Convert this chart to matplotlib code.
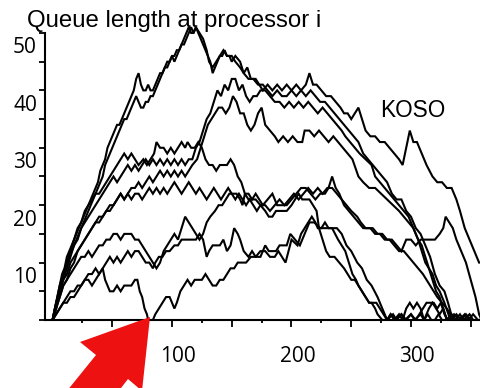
import matplotlib
matplotlib.use("Agg")
import matplotlib.pyplot as plt
from matplotlib.patches import Polygon
from matplotlib.transforms import ScaledTranslation

# ---------------- data (queue length at processor i) ----------------
A_pts = [(0,0),(2,2),(4,4),(6,6),(8,8),(10,9),(12,11),(14,12),(16,13),(18,14),(20,15),(22,16),(24,17),(26,18),
         (28,19),(30,20),(32,21),(34,22),(36,23),(38,24),(40,26),(42,27),(44,28),(46,30),(48,31),(50,32),(52,33),
         (54,34),(56,34),(58,35),(60,36),(62,37),(64,38),(66,39),(68,40),(70,42),(72,43),(74,41),(76,40),(78,40),
         (80,41),(82,40),(84,40),(86,41),(88,42),(90,43),(92,43),(94,44),(96,45),(98,45),(100,46),(102,46),(104,47),
         (106,47),(108,48),(110,49),(112,50),(114,51),(116,50),(118,50),(120,51),(122,50),(124,49),(126,48),(128,47),
         (130,46),(132,45),(134,43),(136,44),(138,45),(140,46),(142,46),(144,47),(146,46),(148,46),(150,45),(153,46),
         (157,45),(160,43),(163,44),(166,42),(170,42),(173,41),(176,40),(180,41),(184,40),(188,41),(192,40),(196,41),
         (200,40),(204,41),(208,40),(212,41),(215,43),(218,41),(221,41),(225,40),(229,39),(233,39),(237,38),(241,37),
         (244,36),(247,36),(250,35),(253,36),(256,37),(259,35),(262,33),(266,32),(270,32),(274,31),(278,31),(282,30),
         (286,29),(290,28),(293,27),(296,30),(299,33),(302,31),(305,31),(309,29),(313,27),(318,25),(322,24),(326,24),
         (330,23),(334,23),(338,21),(341,19),(345,16),(349,14),(353,12),(357,10),(359,10)]

B_pts = [(0,0),(2,2),(4,3),(6,5),(8,7),(10,8),(12,10),(14,11),(16,12),(18,13),(20,14),(22,15),(24,16),(26,17),
         (28,18),(30,19),(32,20),(34,21),(36,22),(38,23),(40,24),(42,25),(44,27),(46,28),(48,29),(50,30),(52,31),
         (54,32),(56,33),(58,34),(60,35),(62,35),(64,36),(66,37),(68,38),(70,39),(72,38),(74,37),(76,37),(78,38),
         (80,38),(82,39),(84,39),(86,40),(88,41),(90,42),(92,43),(94,44),(96,44),(98,45),(100,46),(102,45),(104,46),
         (106,47),(108,48),(110,48),(112,49),(114,50),(116,51),(118,50),(120,51),(123,50),(126,49),(129,47),(131,45),
         (134,44),(137,45),(140,46),(143,47),(146,46),(150,46),(153,45),(157,44),(160,43),(164,42),(168,42),(172,41),
         (176,41),(180,40),(184,39),(188,40),(192,39),(196,39),(200,40),(204,39),(208,40),(212,39),(216,40),(220,39),
         (224,38),(228,38),(232,37),(236,36),(240,35),(244,34),(248,33),(252,32),(256,31),(260,29),(264,28),(268,27),
         (272,26),(276,25),(280,24),(284,22),(288,21),(292,21),(296,19),(300,18),(304,16),(308,15),(312,13),(316,11),
         (320,8),(324,6),(328,5),(331,3),(335,0)]

C3_pts = [(0,0),(3,2),(6,5),(9,7),(12,9),(15,11),(18,13),(21,14),(24,16),(27,17),(30,18),(33,19),(36,20),(39,21),
          (42,22),(45,23),(48,24),(51,25),(54,24),(57,25),(60,26),(63,27),(66,26),(69,27),(72,26),(75,27),(78,28),
          (81,27),(84,28),(87,27),(90,28),(93,27),(96,28),(99,27),(102,28),(105,27),(108,28),(111,27),(114,28),
          (117,28),(120,30),(123,31),(126,33),(129,35),(132,36),(135,38),(138,40),(141,39),(144,41),(147,40),(150,42),
          (153,42),(156,40),(159,41),(162,39),(165,38),(168,39),(171,39),(174,40),(178,40),(182,39),(186,38),(190,38),
          (194,37),(198,38),(202,37),(206,38),(210,37),(214,38),(218,37),(222,36),(226,37),(230,36),(234,35),(238,34),
          (242,33),(245,32),(249,31),(253,30),(257,29),(262,28),(267,27),(270,25),(274,24),(278,23),(282,22),(286,21),
          (290,20),(294,19),(298,18),(302,16),(306,14),(309,12),(312,10),(315,9),(318,8),(321,6),(324,5),(328,3),(333,0)]

C4_pts = [(0,0),(3,2),(6,4),(9,6),(12,7),(15,9),(18,10),(21,12),(24,13),(27,14),(30,15),(33,16),(36,17),(39,17),
          (42,18),(45,19),(48,20),(51,20),(54,21),(57,22),(60,21),(63,22),(66,23),(69,23),(72,24),(75,23),(78,24),
          (81,25),(84,24),(87,25),(90,26),(93,25),(96,26),(99,25),(102,26),(105,25),(108,26),(111,25),(114,26),
          (117,27),(121,28),(124,30),(127,32),(130,34),(133,35),(136,36),(139,37),(142,37),(145,36),(148,37),(151,39),
          (154,38),(157,36),(160,36),(163,34),(166,33),(169,34),(172,36),(175,37),(178,34),(182,33),(186,32),(189,31),
          (193,32),(197,31),(201,32),(205,31),(209,31),(211,33),(215,33),(219,32),(223,33),(227,32),(231,31),(235,32),
          (239,31),(243,30),(247,29),(251,28),(256,25),(260,24),(265,23),(270,23),(275,22),(280,21),(285,20),(290,19),
          (294,18),(298,17),(302,16),(306,14),(309,13),(312,11),(315,9),(318,7),(321,5),(324,4),(327,2),(330,0)]

C6_pts = [(0,0),(3,3),(6,6),(9,8),(12,10),(15,12),(18,14),(21,16),(24,17),(27,19),(30,20),(33,21),(36,22),(39,22),
          (42,23),(45,24),(48,25),(51,26),(54,27),(57,28),(60,29),(63,28),(66,29),(69,28),(72,27),(76,28),(79,27),
          (82,28),(85,29),(87,31),(90,30),(93,30),(96,29),(99,30),(102,29),(105,30),(108,31),(111,30),(113,31),
          (116,30),(119,30),(122,31),(125,30),(128,28),(131,27),(134,27),(137,26),(140,27),(143,27),(146,27),(149,28),
          (152,27),(155,25),(158,24),(161,22),(164,22),(167,21),(170,22),(173,21),(176,20),(180,21),(184,22),(188,20),
          (192,20),(196,20),(200,21),(204,22),(208,23),(212,23),(216,22),(220,21),(224,22),(228,22),(231,23),(234,25),
          (237,23),(240,22),(244,20),(248,19),(252,18),(256,17),(260,16),(264,16),(268,16),(272,15),(276,15),(280,14),
          (284,14),(288,13),(292,12),(296,14),(300,14),(304,13),(308,14),(312,14),(316,14),(320,14),(324,15),(327,16),
          (329,18),(332,17),(335,16),(338,14),(342,12),(346,10),(350,7),(354,4),(357,1),(359,0)]

C7_pts = [(0,0),(3,3),(6,5),(9,7),(12,8),(15,10),(18,11),(21,12),(24,13),(27,14),(30,15),(33,16),(36,17),(39,18),
          (42,18),(45,19),(48,19),(51,20),(54,21),(57,22),(60,21),(63,22),(66,21),(69,22),(72,22),(75,21),(78,22),
          (81,23),(84,22),(87,23),(90,22),(93,23),(96,22),(99,23),(102,24),(105,23),(108,22),(111,23),(114,24),
          (117,23),(120,22),(123,23),(126,22),(129,21),(132,22),(135,23),(138,22),(141,21),(144,22),(147,23),(150,22),
          (153,21),(156,22),(159,21),(162,20),(165,21),(168,20),(171,19),(174,20),(178,20),(182,19),(186,20),(190,21),
          (194,20),(198,21),(202,22),(206,21),(210,22),(214,23),(218,22),(222,23),(226,22),(230,23),(234,23),(238,22),
          (242,21),(246,20),(250,19),(255,18),(258,17),(262,16),(266,16),(270,15),(274,15),(278,14),(282,14),(286,13),
          (290,12),(294,12),(298,11),(302,10),(306,9),(310,8),(313,7),(316,6),(319,5),(322,4),(326,3),(330,2),(333,1),
          (335,0)]

C8_pts = [(0,0),(3,2),(6,4),(9,6),(12,7),(15,8),(18,9),(21,10),(24,11),(27,11),(30,12),(33,11),(36,12),(39,13),
          (42,13),(45,14),(48,14),(51,15),(54,15),(57,14),(60,15),(63,15),(66,15),(69,14),(72,14),(75,13),(78,12),
          (81,11),(84,10),(87,9),(90,10),(93,12),(96,13),(99,14),(102,15),(105,14),(108,16),(111,18),(114,17),
          (117,16),(120,15),(123,14),(126,15),(129,17),(132,18),(136,19),(139,20),(142,20),(145,21),(148,22),(151,22),
          (154,22),(157,21),(159,20),(161,22),(164,21),(167,21),(170,21),(174,20),(178,19),(181,18),(184,18),(187,19),
          (190,19),(193,19),(196,19),(200,20),(203,21),(206,22),(209,21),(212,21),(215,21),(218,20),(221,19),(223,16),
          (226,14),(229,12),(232,11),(236,11),(240,10),(244,9),(247,8),(250,7),(253,7),(256,6),(259,5),(262,4),(265,3),
          (268,3),(271,3),(274,2),(277,1),(280,0),(283,1),(286,0),(290,1),(293,0),(296,2),(299,3),(302,2),(305,3),
          (308,2),(311,0),(314,1),(317,0),(320,0),(323,1),(326,0),(330,0),(334,1),(337,0),(341,1),(344,0),(349,1),
          (352,0),(359,0)]

C9_pts = [(0,0),(3,1),(6,2),(9,3),(12,4),(15,5),(18,5),(21,6),(24,6),(27,7),(30,7),(33,6),(36,7),(39,8),(42,9),
          (45,10),(48,11),(51,10),(54,11),(57,10),(60,11),(63,12),(66,11),(69,12),(72,12),(75,11),(78,10),(81,10),
          (84,9),(86,10),(89,11),(92,11),(95,12),(98,12),(102,13),(105,13),(108,14),(111,14),(114,14),(117,14),
          (120,14),(123,15),(126,14),(129,11),(131,12),(134,13),(137,13),(140,13),(143,14),(146,12),(149,13),(152,16),
          (155,15),(157,14),(160,12),(164,11),(167,12),(170,11),(174,11),(178,13),(181,12),(184,12),(187,12),(190,13),
          (193,13),(196,13),(199,15),(203,14),(207,13),(211,15),(215,17),(219,17),(224,16),(228,16),(232,16),(236,16),
          (238,16),(242,15),(246,13),(250,12),(255,10),(259,9),(263,7),(267,6),(272,4),(276,2),(280,0),(283,1),(287,0),
          (292,1),(295,0),(300,1),(304,0),(310,2),(313,3),(316,3),(319,3),(322,2),(325,3),(328,1),(331,0),(336,1),
          (340,0),(345,1),(348,0),(352,1),(356,0),(359,0)]

C10_pts = [(0,0),(3,1),(6,2),(9,3),(12,3),(15,4),(18,4),(21,5),(24,6),(27,7),(30,8),(33,8),(36,9),(39,8),(42,9),
           (44,7),(46,6),(48,5),(51,5),(54,6),(57,5),(60,6),(63,6),(66,6),(69,7),(71,7),(73,5),(75,4),(77,2),(79,1),
           (80,0),(84,0),(86,1),(89,2),(92,3),(95,4),(98,4),(100,3),(102,2),(104,3),(107,5),(110,6),(113,7),(116,6),
           (119,7),(122,7),(125,7),(128,8),(131,7),(134,6),(137,6),(140,7),(143,7),(146,8),(149,9),(152,9),(155,10),
           (158,10),(162,10),(166,11),(170,11),(174,12),(178,12),(182,11),(186,11),(189,12),(192,11),(195,10),
           (200,14),(205,13),(208,15),(211,16),(214,17),(217,18),(220,17),(222,16),(225,16),(228,17),(231,16),(234,16),
           (239,14),(242,13),(245,12),(248,10),(251,8),(254,7),(256,6),(259,5),(262,4),(265,3),(267,3),(270,2),(272,1),
           (276,0),(280,0),(285,1),(288,0),(292,1),(296,0),(300,1),(303,0),(308,1),(311,0),(315,2),(318,3),(321,2),
           (324,1),(327,2),(330,0),(334,0),(338,1),(342,0),(346,1),(350,0),(359,0)]

series = [A_pts, B_pts, C3_pts, C4_pts, C6_pts, C7_pts, C8_pts, C9_pts, C10_pts]

y_ticks = list(range(0, 51, 5))
y_labels = ["", "", "10", "", "20", "", "30", "", "40", "", "50"]
x_ticks_major = list(range(50, 351, 50))
x_labels = ["", "100", "", "200", "", "300", ""]
x_ticks_minor = list(range(25, 351, 50))

title_text = "Queue length at processor i"
curve_label = "KOSO"

# ---------------- figure ----------------
W, H, DPI = 481, 388, 100
fig = plt.figure(figsize=(W / DPI, H / DPI), dpi=DPI)
ax = fig.add_axes([45 / W, 1 - 320 / H, 1 - 45 / W, (320 - 21.5) / H])

for pts in series:
    xs = [p[0] for p in pts]
    ys = [p[1] for p in pts]
    ax.plot(xs, ys, color="black", lw=1.5, solid_joinstyle="miter", zorder=3)

ax.set_xlim(-6.3, 358.6)
ax.set_ylim(0, 52)

for s in ("top", "right"):
    ax.spines[s].set_visible(False)
ax.spines["left"].set_linewidth(1.5)
ax.spines["bottom"].set_linewidth(1.5)
ax.spines["left"].set_bounds(0, 50)

tick_font = dict(family="Open Sans", size=15)
ax.set_yticks(y_ticks)
ax.set_yticklabels(y_labels, fontdict=tick_font)
ax.tick_params(axis="y", direction="out", length=4.3, width=1.3, pad=1.5)
for lab in ax.get_yticklabels():
    lab.set_transform(lab.get_transform() + ScaledTranslation(0, -12.5 / DPI, fig.dpi_scale_trans))

ax.set_xticks(x_ticks_major)
ax.set_xticklabels(x_labels, fontdict=tick_font)
ax.set_xticks(x_ticks_minor, minor=True)
ax.tick_params(axis="x", which="major", direction="out", length=5, width=1.3, pad=14)
ax.tick_params(axis="x", which="minor", direction="out", length=2.3, width=1.3)
for lab in ax.get_xticklabels():
    lab.set_transform(lab.get_transform() + ScaledTranslation(6 / DPI, 0, fig.dpi_scale_trans))

fig.text(27 / W, 1 - 27 / H, title_text, family="Liberation Sans", size=17.3, va="baseline", ha="left")
fig.text(380 / W, 1 - 117 / H, curve_label, family="Liberation Sans", size=16.3, va="baseline", ha="left")

# red arrow pointing at the point where the queue empties
arrow_px = [(150, 317), (80, 342), (96, 355), (58, 402), (90, 428), (128, 379), (142, 391)]
arrow = Polygon([(x / W, 1 - y / H) for x, y in arrow_px], closed=True, transform=fig.transFigure,
                facecolor="#EE1111", edgecolor="none", zorder=10)
fig.patches.append(arrow)

fig.savefig("out.png", dpi=DPI)
